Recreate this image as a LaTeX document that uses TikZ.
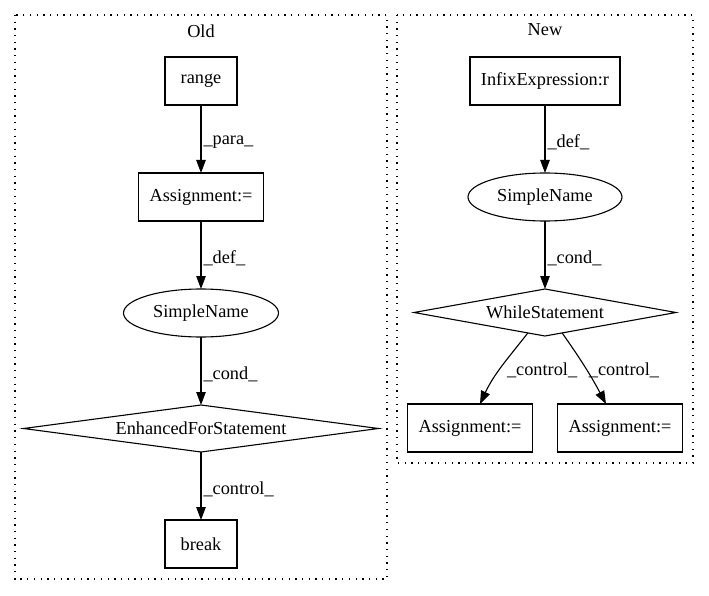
\documentclass[tikz,border=0pt]{standalone}
\usepackage{fontspec}
\setmainfont{Liberation Serif}
\usetikzlibrary{arrows.meta, positioning, shapes.geometric}

\tikzset{
    box/.style={draw, rectangle, line width=1.1pt, minimum width=72pt, minimum height=48pt, inner xsep=11pt, outer sep=0pt},
    ellip/.style={draw, ellipse, line width=1.1pt, minimum width=155pt, minimum height=48pt, inner sep=0pt, outer sep=0pt},
    decision/.style={draw, diamond, line width=1.1pt, aspect=8, minimum height=47pt, inner sep=0pt, outer sep=0pt},
    flow/.style={-{Triangle[length=13pt, width=9.5pt]}, line width=1.1pt},
    elabel/.style={midway, right, inner sep=2pt, yshift=-3pt},
    cluster/.style={line width=1.2pt, dash pattern=on 1.3pt off 5.4pt}
}

\begin{document}
\begin{tikzpicture}[x=1pt, y=1pt, node distance=68pt,
    every node/.style={font=\fontsize{18.3}{22}\selectfont}]
    \useasboundingbox (0,0) rectangle (709,-596);

    % old version
    \draw[cluster] (15,-15) rectangle (387,-579);
    \node (oldlbl) at (201,-31) {Old};
    \node[box] (range) at (201,-81) {range};
    \node[box] (asgold) [below=of range] {Assignment:=};
    \node[ellip] (snold) [below=of asgold] {SimpleName};
    \node[decision, minimum width=355pt] (efor) [below=of snold] {EnhancedForStatement};
    \node[box] (brk) [below=of efor] {break};
    \draw[flow] (range) -- node[elabel] {\_para\_} (asgold);
    \draw[flow] (asgold) -- node[elabel] {\_def\_} (snold);
    \draw[flow] (snold) -- node[elabel] {\_cond\_} (efor);
    \draw[flow] (efor) -- node[elabel] {\_control\_} (brk);

    % new version
    \draw[cluster] (397,-15) rectangle (693,-463);
    \node (newlbl) at (545,-30) {New};
    \node[box] (infix) at (545,-81) {InfixExpression:r};
    \node[ellip, minimum width=154pt] (snnew) [below=of infix] {SimpleName};
    \node[decision, minimum width=262pt] (wst) [below=of snnew] {WhileStatement};
    \node[box] (asgl) [below=of wst, xshift=-75pt] {Assignment:=};
    \node[box] (asgr) [below=of wst, xshift=75pt] {Assignment:=};
    \draw[flow] (infix) -- node[elabel] {\_def\_} (snnew);
    \draw[flow] (snnew) -- node[elabel] {\_cond\_} (wst);
    \draw[flow] (wst.230) to[out=-128, in=65] node[elabel, inner sep=5pt] {\_control\_} ([xshift=10pt]asgl.north);
    \draw[flow] (wst.-50) to[out=-55, in=118] node[elabel, inner sep=3pt] {\_control\_} ([xshift=-14pt]asgr.north);
\end{tikzpicture}
\end{document}
